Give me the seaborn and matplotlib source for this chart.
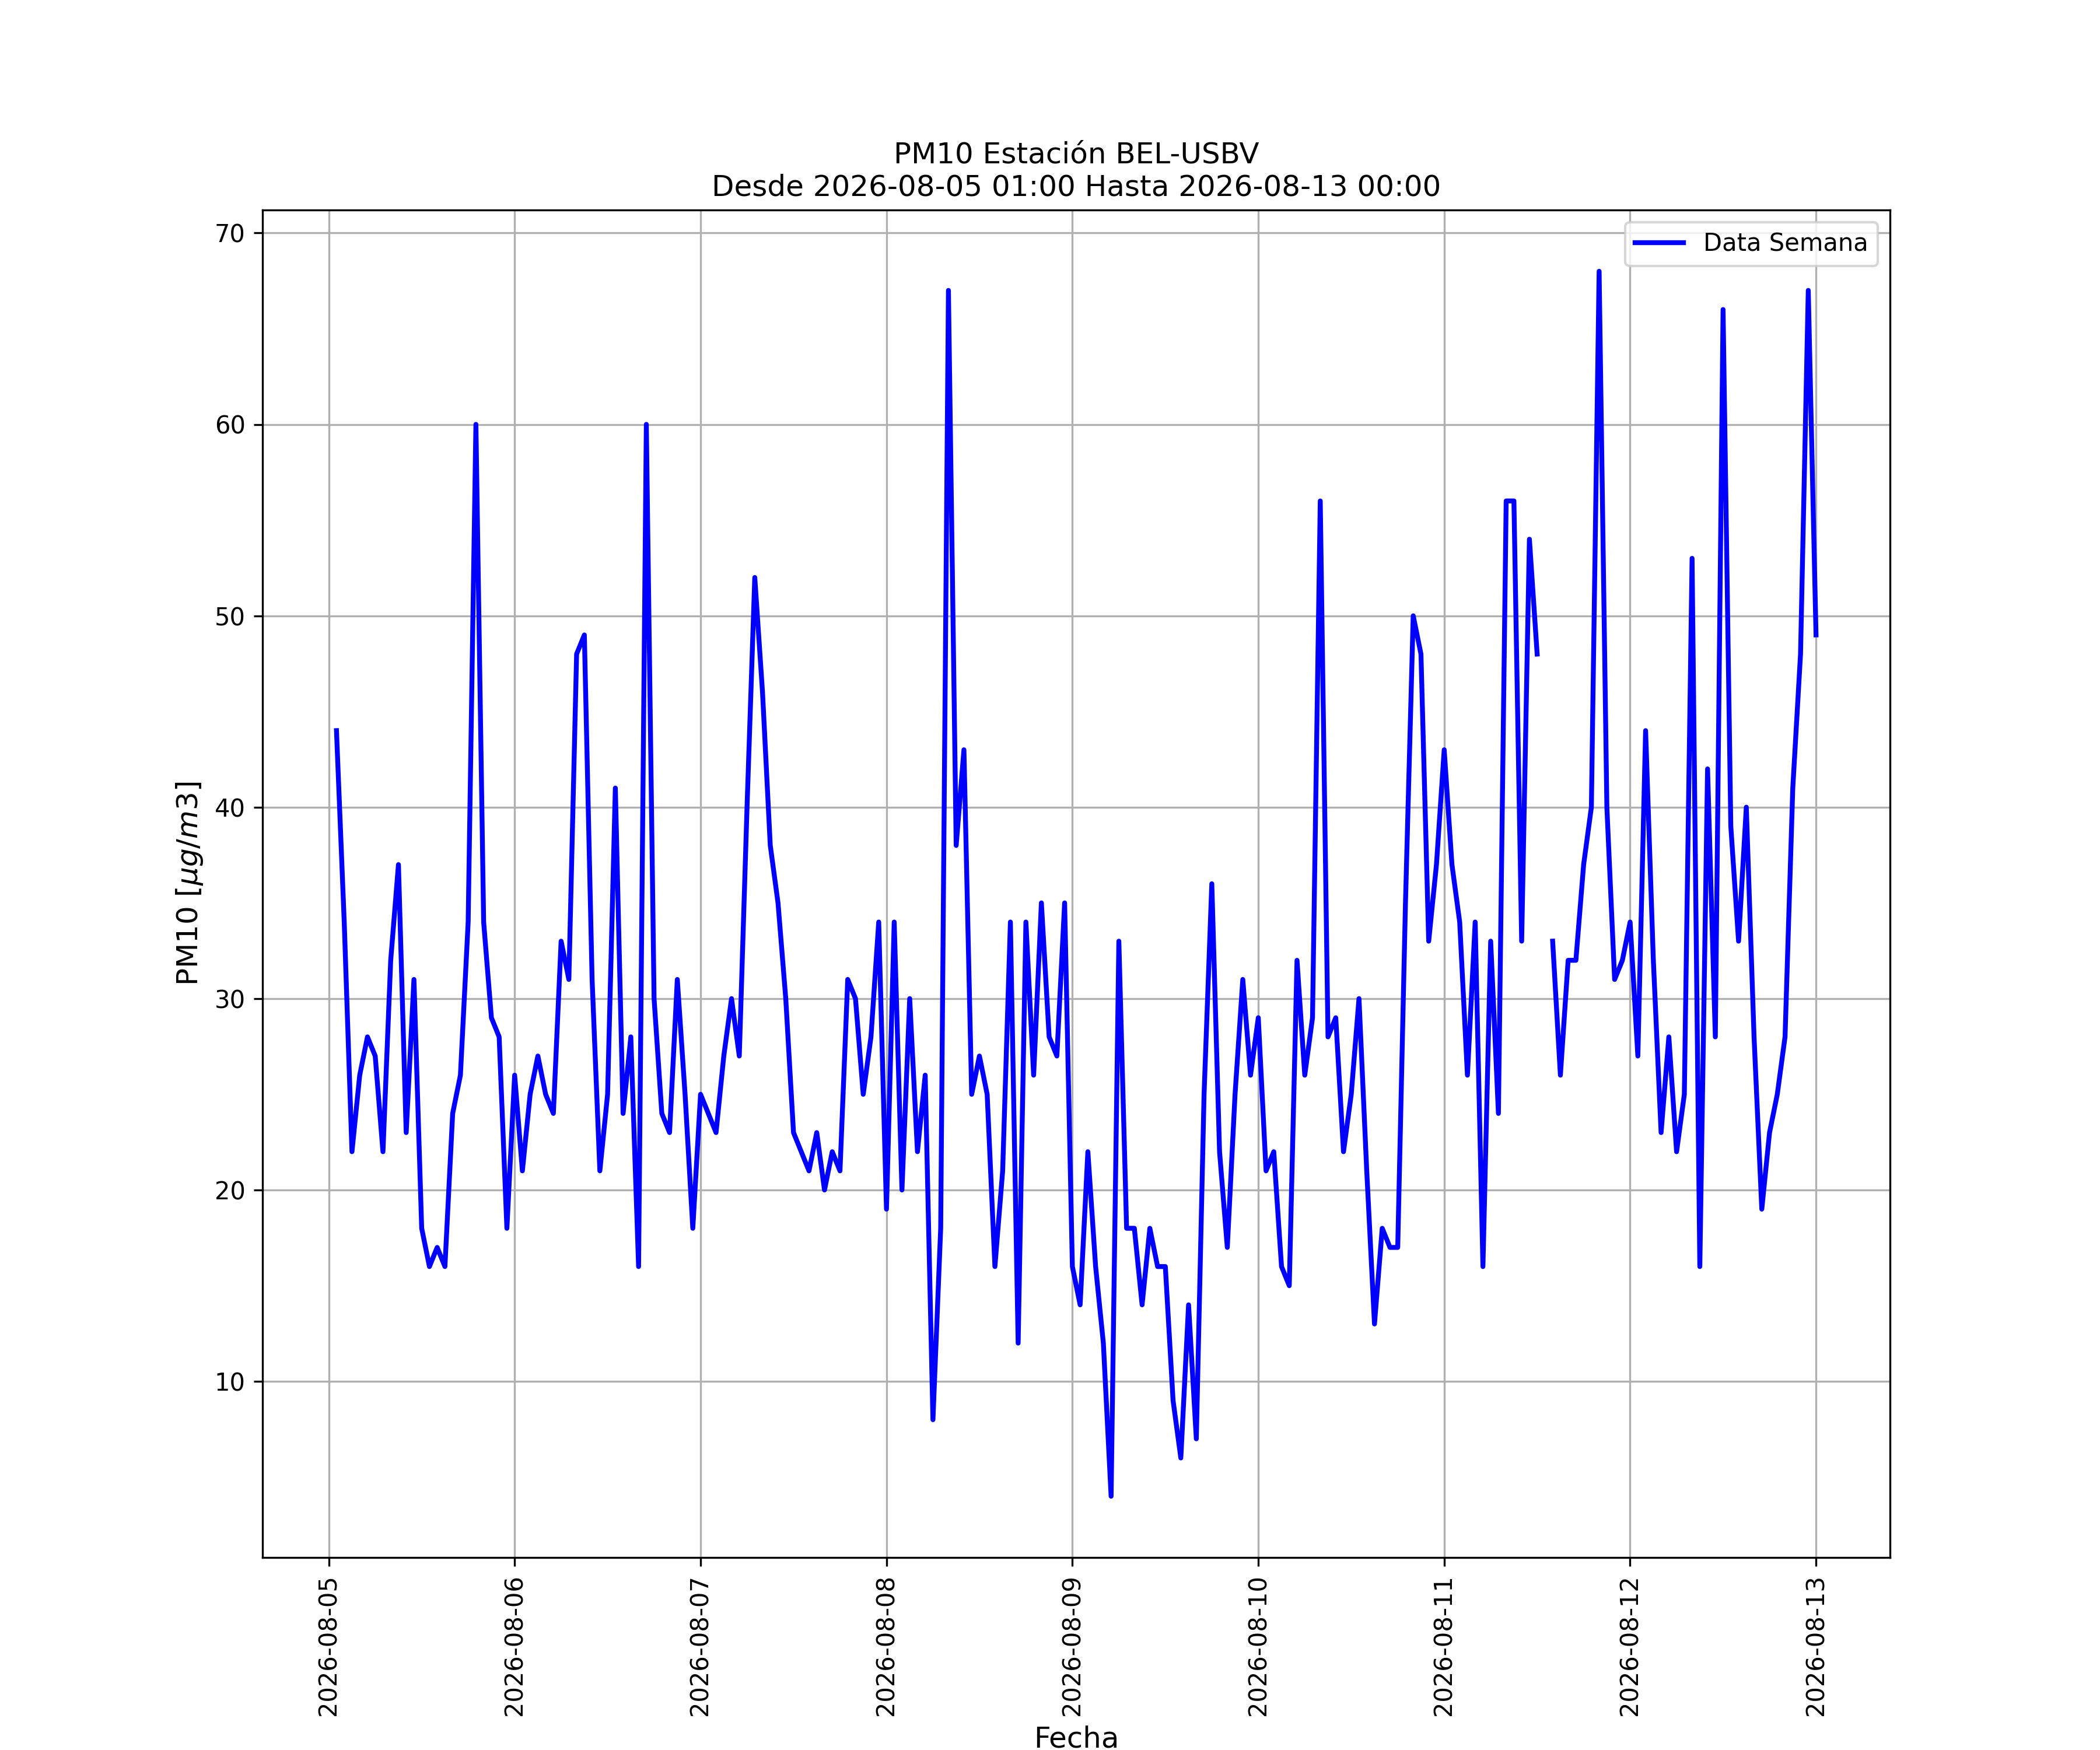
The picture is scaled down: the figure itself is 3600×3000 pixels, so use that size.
import matplotlib
matplotlib.use("Agg")
import matplotlib.pyplot as plt
import matplotlib.dates as mdates
import seaborn as sns
import pandas as pd
import numpy as np

# PM10 horario, 2026-08-05 01:00 -> 2026-08-13 00:00
start = "2026-08-05 01:00"
end = "2026-08-13 00:00"

dia1 = [44, 34, 22, 26, 28, 27, 22, 32, 37, 23, 31, 18, 16, 17, 16, 24,
        26, 34, 60, 34, 29, 28, 18, 26]
dia2 = [21, 25, 27, 25, 24, 33, 31, 48, 49, 31, 21, 25, 41, 24, 28, 16,
        60, 30, 24, 23, 31, 25, 18, 25]
dia3 = [24, 23, 27, 30, 27, 40, 52, 46, 38, 35, 30, 23, 22, 21, 23, 20,
        22, 21, 31, 30, 25, 28, 34, 19]
dia4 = [34, 20, 30, 22, 26, 8, 18, 67, 38, 43, 25, 27, 25, 16, 21, 34,
        12, 34, 26, 35, 28, 27, 35, 16]
dia5 = [14, 22, 16, 12, 4, 33, 18, 18, 14, 18, 16, 16, 9, 6, 14, 7,
        25, 36, 22, 17, 25, 31, 26, 29]
dia6 = [21, 22, 16, 15, 32, 26, 29, 56, 28, 29, 22, 25, 30, 21, 13, 18,
        17, 17, 35, 50, 48, 33, 37, 43]
dia7 = [37, 34, 26, 34, 16, 33, 24, 56, 56, 33, 54, 48, np.nan, 33, 26, 32,
        32, 37, 40, 68, 40, 31, 32, 34]
dia8 = [27, 44, 32, 23, 28, 22, 25, 53, 16, 42, 28, 66, 39, 33, 40, 28,
        19, 23, 25, 28, 41, 48, 67, 49]

valores = dia1 + dia2 + dia3 + dia4 + dia5 + dia6 + dia7 + dia8
fechas = pd.date_range(start, end, freq="h")

df = pd.DataFrame({"Fecha": fechas, "PM10": valores})

fig, ax = plt.subplots(figsize=(12, 10), dpi=300)

# se dibuja por tramos para conservar el hueco del dato faltante
df["tramo"] = df["PM10"].isna().cumsum()
d = df.dropna()
primero = True
for t, g in d.groupby("tramo"):
    sns.lineplot(data=g, x="Fecha", y="PM10", ax=ax, color="blue", linewidth=2,
                 estimator=None, label="Data Semana" if primero else None)
    primero = False

ax.margins(x=0.05, y=0.05)
ax.xaxis.set_major_locator(mdates.DayLocator())
ax.xaxis.set_major_formatter(mdates.DateFormatter("%Y-%m-%d"))
plt.setp(ax.get_xticklabels(), rotation=90)

ax.set_title(f"PM10 Estación BEL-USBV\nDesde {start} Hasta {end}", fontsize=12)
ax.set_xlabel("Fecha", fontsize=12)
ax.set_ylabel(r"PM10 [$\mu g/m3$]", fontsize=12)
ax.grid(True)
ax.legend(loc="upper right")

plt.savefig("out.png", dpi=300)
